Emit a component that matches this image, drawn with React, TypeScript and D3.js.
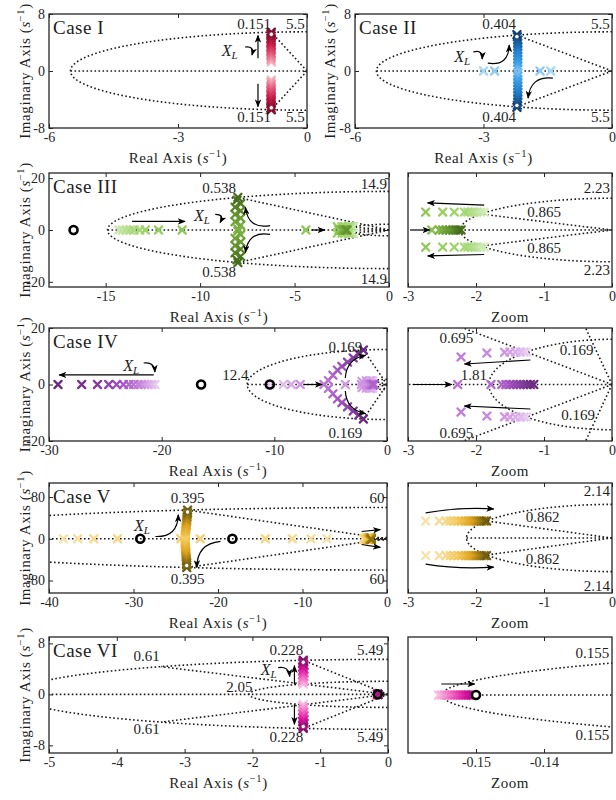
import React, { useEffect, useRef } from "react";
import * as d3 from "d3";

type Pt = [number, number];
type Label = [string, number, number, string];

// ---------------- Case I ----------------
const c1XTicks = [-6, -3, 0];
const c1YTicks = [-8, 0, 8];
const c1Wn = [5.5];
const c1Zeta: Pt[] = [[0.151, 5.5]];
const c1Upper: Pt[] = [[-0.83, 1.3], [-0.84, 1.6], [-0.83, 1.9], [-0.84, 2.2], [-0.83, 2.5], [-0.84, 2.8], [-0.83, 3.1], [-0.84, 3.4], [-0.83, 3.7], [-0.84, 4.0], [-0.83, 4.3], [-0.84, 4.6], [-0.83, 4.9], [-0.84, 5.2], [-0.83, 5.44]];
const c1Lower: Pt[] = [[-0.83, -1.3], [-0.84, -1.6], [-0.83, -1.9], [-0.84, -2.2], [-0.83, -2.5], [-0.84, -2.8], [-0.83, -3.1], [-0.84, -3.4], [-0.83, -3.7], [-0.84, -4.0], [-0.83, -4.3], [-0.84, -4.6], [-0.83, -4.9], [-0.84, -5.2], [-0.83, -5.44]];
const c1Arrows = [[-1.14, 1.8, -1.14, 5.0, 0], [-1.14, -1.8, -1.14, -5.0, 0], [-1.44, 3.37, -1.28, 2.25, 4]];
const c1Labels: Label[] = [["0.151", -0.84, 5.9, "end"], ["5.5", -0.05, 5.9, "end"], ["0.151", -0.84, -7.1, "end"], ["5.5", -0.05, -7.1, "end"]];
const c1XL: Pt = [-1.8, 2.8];

// ---------------- Case II ----------------
const c2Wn = [5.5];
const c2Zeta: Pt[] = [[0.404, 5.5]];
const c2Upper: Pt[] = [[-3.0, 0], [-2.74, 0], [-2.2, 0.3], [-2.2, 0.75], [-2.2, 1.2], [-2.2, 1.65], [-2.2, 2.1], [-2.2, 2.55], [-2.2, 3.0], [-2.2, 3.45], [-2.2, 3.9], [-2.2, 4.35], [-2.21, 4.8], [-2.22, 5.1]];
const c2Lower: Pt[] = [[-1.43, 0], [-1.68, 0], [-2.2, -0.3], [-2.2, -0.75], [-2.2, -1.2], [-2.2, -1.65], [-2.2, -2.1], [-2.2, -2.55], [-2.2, -3.0], [-2.2, -3.45], [-2.2, -3.9], [-2.2, -4.35], [-2.21, -4.8], [-2.22, -5.1]];
const c2Arrows = [[-2.9, 1.1, -2.4, 3.65, -8], [-1.38, -1.0, -1.96, -3.8, -8], [-3.24, 2.67, -3.03, 1.68, 4]];
const c2Labels: Label[] = [["0.404", -2.24, 5.9, "end"], ["5.5", -0.05, 5.9, "end"], ["0.404", -2.24, -7.1, "end"], ["5.5", -0.05, -7.1, "end"]];
const c2XL: Pt = [-3.5, 2.0];

// ---------------- Case III ----------------
const c3XTicks = [-15, -10, -5, 0];
const c3YTicks = [-20, 0, 20];
const c3Wn = [14.9, 2.23];
const c3Zeta: Pt[] = [[0.538, 14.9], [0.865, 2.23]];
const c3Zeros: Pt[] = [[-16.7, 0]];
const c3Left: Pt[] = [[-14.3, 0], [-14.1, 0], [-13.9, 0], [-13.7, 0], [-13.5, 0], [-13.2, 0], [-12.9, 0], [-12.2, 0], [-10.95, 0]];
const c3Up: Pt[] = [[-8.0, 0.4], [-7.85, 1.8], [-8.15, 3.2], [-7.85, 4.6], [-8.15, 6.0], [-7.85, 7.4], [-8.15, 8.8], [-7.85, 10.2], [-8.05, 11.5], [-8.0, 12.6]];
const c3Down: Pt[] = [[-8.0, -0.4], [-7.85, -1.8], [-8.15, -3.2], [-7.85, -4.6], [-8.15, -6.0], [-7.85, -7.4], [-8.15, -8.8], [-7.85, -10.2], [-8.05, -11.5], [-8.0, -12.6]];
const c3Arrows = [[-13.6, 3.3, -10.8, 3.3, 0], [-9.2, 6.0, -8.94, 2.9, 4], [-6.3, 1.7, -7.6, 8.7, 8], [-6.3, -1.7, -7.6, -8.7, -8], [-4.1, 0, -3.4, 0, 0]];
const c3Labels: Label[] = [["0.538", -8.1, 14.1, "end"], ["14.9", -0.1, 16, "end"], ["0.538", -8.1, -18, "end"], ["14.9", -0.1, -20.7, "end"]];
const c3XL: Pt = [-9.9, 5.2];
// zoomed view of the slow poles
const c3zUpper: Pt[] = [[-1.88, 1.26], [-1.93, 1.26], [-1.99, 1.26], [-2.03, 1.26], [-2.07, 1.26], [-2.12, 1.26], [-2.17, 1.26], [-2.32, 1.26], [-2.49, 1.26], [-2.74, 1.26]];
const c3zLower: Pt[] = [[-1.88, -1.2], [-1.93, -1.2], [-1.99, -1.2], [-2.03, -1.2], [-2.07, -1.2], [-2.12, -1.2], [-2.17, -1.2], [-2.32, -1.2], [-2.49, -1.2], [-2.74, -1.2]];
const c3zCenter: Pt[] = [[-4.4, 0], [-2.65, 0], [-2.54, 0], [-2.49, 0], [-2.44, 0], [-2.39, 0], [-2.34, 0], [-2.3, 0], [-2.26, 0], [-2.22, 0]];
const c3zWn = [2.23];
const c3zZeta: Pt[] = [[0.865, 2.23]];
const c3zArrows = [[-1.88, 1.75, -2.71, 1.9, 0], [-1.88, -1.72, -2.71, -1.82, 0], [-2.97, 0, -2.68, 0, 0]];
const c3zLabels: Label[] = [["2.23", -0.03, 2.6, "end"], ["0.865", -1.0, 0.91, "middle"], ["0.865", -1.0, -1.6, "middle"], ["2.23", -0.03, -3.15, "end"]];

// ---------------- Case IV ----------------
const c4XTicks = [-30, -20, -10, 0];
const c4YTicks = [-20, 0, 20];
const c4Wn = [12.4, 1.81];
const c4Zeta: Pt[] = [[0.169, 12.4], [0.695, 1.81]];
const c4Zeros: Pt[] = [[-16.5, 0], [-10.4, 0]];
const c4Left: Pt[] = [[-20.6, 0], [-20.9, 0], [-21.2, 0], [-21.5, 0], [-21.8, 0], [-22.1, 0], [-22.5, 0], [-22.9, 0], [-23.4, 0], [-24.0, 0], [-24.7, 0], [-25.7, 0], [-27.1, 0], [-29.2, 0]];
const c4Right: Pt[] = [[-10.4, 0], [-9.2, 0], [-8.5, 0], [-7.7, 0], [-5.6, 0]];
const c4Up: Pt[] = [[-5.2, 1.4], [-4.8, 3.3], [-4.4, 5.1], [-4.0, 6.4], [-3.5, 7.9], [-3.0, 9.4], [-2.5, 10.8], [-2.1, 12.2]];
const c4Down: Pt[] = [[-5.2, -1.4], [-4.8, -3.3], [-4.4, -5.1], [-4.0, -6.4], [-3.5, -7.9], [-3.0, -9.4], [-2.5, -10.8], [-2.1, -12.2]];
const c4Arrows = [[-20.7, 3.4, -29.1, 3.4, 0], [-21.6, 7.6, -20.6, 4.4, 4], [-7.4, 0, -5.75, 0, 0], [-3.7, 2.3, -1.9, 10.3, 6], [-3.7, -2.3, -1.9, -10.3, -6]];
const c4Labels: Label[] = [["12.4", -12.3, 1.6, "end"], ["0.169", -2.2, 11.6, "end"], ["0.169", -2.2, -18.9, "end"]];
const c4XL: Pt = [-22.7, 6.5];
const c4zUpper: Pt[] = [[-1.26, 1.3], [-1.3, 1.3], [-1.35, 1.3], [-1.42, 1.3], [-1.5, 1.3], [-1.58, 1.29], [-1.84, 1.26], [-2.22, 1.1]];
const c4zLower: Pt[] = [[-1.26, -1.3], [-1.3, -1.3], [-1.35, -1.3], [-1.42, -1.3], [-1.5, -1.3], [-1.58, -1.29], [-1.84, -1.26], [-2.22, -1.1]];
const c4zCenter: Pt[] = [[-3.7, 0], [-2.27, 0], [-1.78, 0], [-1.62, 0], [-1.56, 0], [-1.5, 0], [-1.45, 0], [-1.4, 0], [-1.35, 0], [-1.3, 0], [-1.25, 0], [-1.2, 0], [-1.15, 0]];
const c4zWn = [1.81];
const c4zZeta: Pt[] = [[0.695, 3.5], [0.169, 12.4]];
const c4zArrows = [[-1.2, 0.98, -2.17, 0.82, 0], [-1.2, -0.98, -2.17, -0.86, 0], [-2.93, 0, -2.36, 0, 0]];
const c4zLabels: Label[] = [["0.695", -2.29, 1.66, "middle"], ["0.169", -0.52, 1.18, "middle"], ["1.81", -2.03, 0.18, "middle"], ["0.169", -0.5, -1.42, "middle"], ["0.695", -2.29, -2.14, "middle"]];

// ---------------- Case V ----------------
const c5XTicks = [-40, -30, -20, -10, 0];
const c5YTicks = [-80, 0, 80];
const c5Wn = [60, 2.14];
const c5Zeta: Pt[] = [[0.395, 60.5], [0.862, 2.14]];
const c5Zeros: Pt[] = [[-29.2, 0], [-18.3, 0]];
const c5Upper: Pt[] = [[-38.3, 0], [-36.6, 0], [-34.7, 0], [-31.9, 0], [-24.4, 0], [-23.9, 2], [-23.9, 6], [-23.85, 10], [-23.85, 14], [-23.8, 18], [-23.8, 22], [-23.75, 26], [-23.75, 30], [-23.7, 34], [-23.7, 38], [-23.65, 42], [-23.65, 46], [-23.6, 50], [-23.6, 55.1]];
const c5Lower: Pt[] = [[-7.1, 0], [-9.0, 0], [-11.2, 0], [-14.4, 0], [-22.1, 0], [-23.9, -2], [-23.9, -6], [-23.9, -10], [-23.85, -14], [-23.85, -18], [-23.85, -22], [-23.8, -26], [-23.8, -30], [-23.8, -34], [-23.75, -38], [-23.75, -42], [-23.7, -46], [-23.7, -50], [-23.7, -55.1]];
const c5Arrows = [[-27.4, 4.4, -24.7, 46, -8], [-19.7, -5, -22.5, -55, -8], [-3.0, 14, -0.8, 17.7, 0], [-3.0, -11, -0.8, -16.6, 0]];
const c5Labels: Label[] = [["0.395", -23.6, 69, "middle"], ["60", -0.3, 69, "end"], ["0.395", -23.6, -87, "middle"], ["60", -0.3, -87, "end"]];
const c5XL: Pt = [-29.0, 25];
const c5zUpper: Pt[] = [[-2.74, 1.08], [-2.54, 1.08], [-2.44, 1.08], [-2.38, 1.08], [-2.32, 1.08], [-2.26, 1.08], [-2.21, 1.08], [-2.16, 1.08], [-2.12, 1.08], [-2.08, 1.08], [-2.04, 1.08], [-2.0, 1.08], [-1.96, 1.08], [-1.92, 1.08], [-1.88, 1.08], [-1.845, 1.08]];
const c5zLower: Pt[] = [[-2.74, -1.12], [-2.54, -1.12], [-2.44, -1.12], [-2.38, -1.12], [-2.32, -1.12], [-2.26, -1.12], [-2.21, -1.12], [-2.16, -1.12], [-2.12, -1.12], [-2.08, -1.12], [-2.04, -1.12], [-2.0, -1.12], [-1.96, -1.12], [-1.92, -1.12], [-1.88, -1.12], [-1.845, -1.12]];
const c5zWn = [2.14];
const c5zZeta: Pt[] = [[0.862, 2.14]];
const c5zArrows = [[-2.74, 1.6, -1.74, 1.85, 2], [-2.74, -1.66, -1.74, -1.85, -2]];
const c5zLabels: Label[] = [["2.14", -0.03, 2.67, "end"], ["0.862", -1.02, 1.02, "middle"], ["0.862", -1.02, -1.66, "middle"], ["2.14", -0.03, -3.38, "end"]];

// ---------------- Case VI ----------------
const c6XTicks = [-5, -4, -3, -2, -1, 0];
const c6YTicks = [-8, 0, 8];
const c6Wn = [5.49, 2.05];
const c6Zeta: Pt[] = [[0.228, 5.49], [0.61, 5.49]];
const c6Zeros: Pt[] = [[-0.15, 0]];
const c6Upper: Pt[] = [[-1.25, 1.6], [-1.26, 1.9], [-1.24, 2.2], [-1.26, 2.5], [-1.24, 2.8], [-1.26, 3.1], [-1.24, 3.4], [-1.26, 3.7], [-1.24, 4.0], [-1.26, 4.3], [-1.24, 4.6], [-1.26, 4.9], [-1.25, 5.15], [-1.25, 5.35]];
const c6Lower: Pt[] = [[-1.25, -1.6], [-1.26, -1.9], [-1.24, -2.2], [-1.26, -2.5], [-1.24, -2.8], [-1.26, -3.1], [-1.24, -3.4], [-1.26, -3.7], [-1.24, -4.0], [-1.26, -4.3], [-1.24, -4.6], [-1.26, -4.9], [-1.25, -5.15], [-1.25, -5.35]];
const c6Arrows = [[-1.38, 1.56, -1.38, 4.5, 0], [-1.38, -1.56, -1.38, -4.7, 0], [-1.62, 4.2, -1.45, 2.8, 4]];
const c6Labels: Label[] = [["0.61", -3.56, 5.2, "middle"], ["0.228", -1.25, 6.25, "end"], ["5.49", -0.07, 6.25, "end"], ["2.05", -2.0, 0.3, "end"], ["0.61", -3.56, -6.25, "middle"], ["0.228", -1.25, -7.5, "end"], ["5.49", -0.07, -7.5, "end"]];
const c6XL: Pt = [-1.76, 3.75];
const c6zXTicks = [-0.15, -0.14];
const c6zPole: Pt[] = [[-0.1555, 0], [-0.1551, 0], [-0.1547, 0], [-0.1543, 0], [-0.1539, 0], [-0.1535, 0], [-0.1531, 0], [-0.1527, 0], [-0.1523, 0], [-0.1519, 0], [-0.1515, 0], [-0.1511, 0], [-0.1507, 0], [-0.1504, 0]];
const c6zWn = [0.155];
const c6zArrows = [[-0.1551, 0.029, -0.1502, 0.029, 0]];
const c6zLabels: Label[] = [["0.155", -0.1304, 0.097, "end"], ["0.155", -0.1304, -0.118, "end"]];

const zoomXTicks = [-3, -2, -1, 0];

// colour ramps (light -> dark) per case
const redRamp = ["#f6b3c2", "#e4587a", "#c41a46", "#7d0f2e"];
const blueRamp = ["#a6d8fa", "#3d9fea", "#1f78c8", "#123f6e"];
const greenRamp = ["#d2ecbc", "#9ad262", "#6ea236", "#456c1c"];
const purpleRamp = ["#ecd4f4", "#cf94e2", "#a455c4", "#6a2a80"];
const goldRamp = ["#f9e2a8", "#f3c95a", "#dca21c", "#6e5c10"];
const pinkRamp = ["#f9c0e4", "#f26cc4", "#dc14a0", "#86106c"];

const FONT = "'Liberation Serif', 'Times New Roman', serif";
const INK = "#262626";
const TXT = "#1e1e1e";
const XMARK = "M-3.6,-3.6L3.6,3.6M-3.6,3.6L3.6,-3.6";

interface Branch { pts: Pt[]; t: [number, number]; end?: boolean }
interface Panel {
  id: string;
  box: [number, number, number, number];
  xDom: [number, number];
  yDom: [number, number];
  xTicks: number[];
  yTicks: number[];
  zoom?: boolean;
  yTitleX?: number;
  title?: string;
  wn: number[];
  zeta: Pt[];
  realFrom: number;
  ramp: string[];
  branches: Branch[];
  zeros: Pt[];
  zeroFill?: string;
  arrows: number[][];
  labels: Label[];
  xl?: Pt;
}

const MAIN_L = 49, MAIN_R = 388, ZL = 408, ZR = 612;
const rows: [number, number][] = [[14, 128], [173, 287], [328, 441], [483, 593], [637, 753]];

const panels: Panel[] = [
  {
    id: "c1", box: [49, rows[0][0], 307, rows[0][1]], xDom: [-6, 0], yDom: [-8, 8],
    xTicks: c1XTicks, yTicks: c1YTicks, yTitleX: 30, title: "Case I",
    wn: c1Wn, zeta: c1Zeta, realFrom: -5.5, ramp: redRamp,
    branches: [{ pts: c1Upper, t: [0, 1], end: true }, { pts: c1Lower, t: [0, 1], end: true }],
    zeros: [], arrows: c1Arrows, labels: c1Labels, xl: c1XL,
  },
  {
    id: "c2", box: [355, rows[0][0], 612, rows[0][1]], xDom: [-6, 0], yDom: [-8, 8],
    xTicks: c1XTicks, yTicks: c1YTicks, yTitleX: 335, title: "Case II",
    wn: c2Wn, zeta: c2Zeta, realFrom: -5.5, ramp: blueRamp,
    branches: [{ pts: c2Upper, t: [0, 1], end: true }, { pts: c2Lower, t: [0, 1], end: true }],
    zeros: [], arrows: c2Arrows, labels: c2Labels, xl: c2XL,
  },
  {
    id: "c3", box: [MAIN_L, rows[1][0], 389, rows[1][1]], xDom: [-18, 0], yDom: [-22, 22],
    xTicks: c3XTicks, yTicks: c3YTicks, yTitleX: 30, title: "Case III",
    wn: c3Wn, zeta: c3Zeta, realFrom: -14.9, ramp: greenRamp,
    branches: [
      { pts: c3Left, t: [0.05, 0.4] }, { pts: c3Up, t: [0.55, 1] }, { pts: c3Down, t: [0.55, 1] },
      { pts: c3zUpper, t: [0, 0.35] }, { pts: c3zLower, t: [0, 0.35] }, { pts: c3zCenter, t: [0.4, 0.75] },
    ],
    zeros: c3Zeros, arrows: c3Arrows, labels: c3Labels, xl: c3XL,
  },
  {
    id: "c3z", box: [ZL, rows[1][0], ZR, rows[1][1]], xDom: [-3, 0], yDom: [-4, 4],
    xTicks: zoomXTicks, yTicks: [], zoom: true,
    wn: c3zWn, zeta: c3zZeta, realFrom: -2.23, ramp: greenRamp,
    branches: [{ pts: c3zUpper, t: [0, 0.4] }, { pts: c3zLower, t: [0, 0.4] }, { pts: c3zCenter, t: [0.4, 1] }],
    zeros: [], arrows: c3zArrows, labels: c3zLabels,
  },
  {
    id: "c4", box: [MAIN_L, rows[2][0], 387, rows[2][1]], xDom: [-30, 0], yDom: [-20, 20],
    xTicks: c4XTicks, yTicks: c4YTicks, yTitleX: 30, title: "Case IV",
    wn: c4Wn, zeta: c4Zeta, realFrom: -12.4, ramp: purpleRamp,
    branches: [
      { pts: c4Left, t: [0.05, 1] }, { pts: c4Right, t: [0, 0.45] }, { pts: c4Up, t: [0.5, 1] }, { pts: c4Down, t: [0.5, 1] },
      { pts: c4zUpper, t: [0, 0.3] }, { pts: c4zLower, t: [0, 0.3] }, { pts: c4zCenter, t: [0.3, 0.6] },
    ],
    zeros: c4Zeros, arrows: c4Arrows, labels: c4Labels, xl: c4XL,
  },
  {
    id: "c4z", box: [ZL, rows[2][0], ZR, rows[2][1]], xDom: [-3, 0], yDom: [-2.26, 2.26],
    xTicks: zoomXTicks, yTicks: [], zoom: true,
    wn: c4zWn, zeta: c4zZeta, realFrom: -12.4, ramp: purpleRamp,
    branches: [{ pts: c4zUpper, t: [0, 0.45] }, { pts: c4zLower, t: [0, 0.45] }, { pts: c4zCenter, t: [0.45, 1] }],
    zeros: [], arrows: c4zArrows, labels: c4zLabels,
  },
  {
    id: "c5", box: [MAIN_L, rows[3][0], 387, rows[3][1]], xDom: [-40, 0], yDom: [-104, 107],
    xTicks: c5XTicks, yTicks: c5YTicks, yTitleX: 30, title: "Case V",
    wn: c5Wn, zeta: c5Zeta, realFrom: -60, ramp: goldRamp,
    branches: [
      { pts: c5Upper, t: [0, 1], end: true }, { pts: c5Lower, t: [0, 1], end: true },
      { pts: c5zUpper, t: [0.1, 0.9] }, { pts: c5zLower, t: [0.1, 0.9] },
    ],
    zeros: c5Zeros, arrows: c5Arrows, labels: c5Labels, xl: c5XL,
  },
  {
    id: "c5z", box: [ZL, rows[3][0], ZR, rows[3][1]], xDom: [-3, 0], yDom: [-3.5, 3.5],
    xTicks: zoomXTicks, yTicks: [], zoom: true,
    wn: c5zWn, zeta: c5zZeta, realFrom: -2.14, ramp: goldRamp,
    branches: [{ pts: c5zUpper, t: [0, 1] }, { pts: c5zLower, t: [0, 1] }],
    zeros: [], arrows: c5zArrows, labels: c5zLabels,
  },
  {
    id: "c6", box: [MAIN_L, rows[4][0], MAIN_R, rows[4][1]], xDom: [-5, 0], yDom: [-9.2, 9.0],
    xTicks: c6XTicks, yTicks: c6YTicks, yTitleX: 30, title: "Case VI",
    wn: c6Wn, zeta: c6Zeta, realFrom: -5.49, ramp: pinkRamp,
    branches: [{ pts: c6Upper, t: [0, 1], end: true }, { pts: c6Lower, t: [0, 1], end: true }, { pts: c6zPole, t: [0.2, 0.8] }],
    zeros: c6Zeros, arrows: c6Arrows, labels: c6Labels, xl: c6XL,
  },
  {
    id: "c6z", box: [ZL, rows[4][0], ZR, rows[4][1]], xDom: [-0.16, -0.13], yDom: [-0.153, 0.153],
    xTicks: c6zXTicks, yTicks: [], zoom: true,
    wn: c6zWn, zeta: [], realFrom: -0.155, ramp: pinkRamp,
    branches: [{ pts: c6zPole, t: [0, 0.85] }],
    zeros: c6Zeros, zeroFill: "#fff", arrows: c6zArrows, labels: c6zLabels,
  },
];

function unitTitle(t: any, prefix: string) {
  t.append("tspan").text(prefix + " (");
  t.append("tspan").attr("font-style", "italic").text("s");
  t.append("tspan").attr("dy", -6).attr("font-size", 10.5).text("\u22121");
  t.append("tspan").attr("dy", 6).text(")");
}

function drawPanel(svg: any, defs: any, p: Panel) {
  const [L, T, R, B] = p.box;
  const x = d3.scaleLinear().domain(p.xDom).range([L, R]);
  const y = d3.scaleLinear().domain(p.yDom).range([B, T]);
  const stops = p.ramp.map((_, i) => i / (p.ramp.length - 1));
  const color = d3.scaleLinear<string>().domain(stops).range(p.ramp).interpolate(d3.interpolateRgb);

  defs.append("clipPath").attr("id", `clip-${p.id}`)
    .append("rect").attr("x", L).attr("y", T).attr("width", R - L).attr("height", B - T);

  const g = svg.append("g");
  const plot = g.append("g").attr("clip-path", `url(#clip-${p.id})`);
  const line = d3.line<Pt>().x((d) => x(d[0])).y((d) => y(d[1]));

  // grid: real axis, constant-wn circles, constant-zeta rays
  const grid = plot.append("g")
    .attr("fill", "none").attr("stroke", "#1c1c1c")
    .attr("stroke-width", 1.6).attr("stroke-dasharray", "1.6 2.4");
  grid.append("path").attr("d", line([[p.realFrom, 0], [0, 0]]));
  p.wn.forEach((w) => {
    const arc: Pt[] = d3.range(90, 270.5, 1).map((a) => [w * Math.cos((a * Math.PI) / 180), w * Math.sin((a * Math.PI) / 180)] as Pt);
    grid.append("path").attr("d", line(arc));
  });
  p.zeta.forEach(([z, r]) => {
    const ex = -z * r;
    const ey = Math.sqrt(1 - z * z) * r;
    grid.append("path").attr("d", line([[0, 0], [ex, ey]]));
    grid.append("path").attr("d", line([[0, 0], [ex, -ey]]));
  });

  // pole trajectories
  const mk = plot.append("g").attr("fill", "none").attr("stroke-width", 2.3).attr("stroke-linecap", "round");
  p.branches.forEach((b) => {
    const n = b.pts.length;
    b.pts.forEach((pt, i) => {
      const t = n > 1 ? b.t[0] + ((b.t[1] - b.t[0]) * i) / (n - 1) : b.t[0];
      mk.append("path").attr("d", XMARK)
        .attr("transform", `translate(${x(pt[0])},${y(pt[1])})`)
        .attr("stroke", color(t));
    });
  });
  p.branches.filter((b) => b.end).forEach((b) => {
    const pt = b.pts[b.pts.length - 1];
    plot.append("circle").attr("cx", x(pt[0])).attr("cy", y(pt[1]) + (pt[1] > 0 ? 2 : -2)).attr("r", 2.2)
      .attr("fill", "#fff").attr("stroke", color(b.t[1])).attr("stroke-width", 0.8);
  });

  // zeros
  p.zeros.forEach((z) => {
    plot.append("circle").attr("cx", x(z[0])).attr("cy", y(z[1])).attr("r", 4)
      .attr("fill", p.zeroFill ?? "none").attr("stroke", "#000").attr("stroke-width", 2.6);
  });

  // arrows
  p.arrows.forEach(([x1, y1, x2, y2, bend]) => {
    const X1 = x(x1), Y1 = y(y1), X2 = x(x2), Y2 = y(y2);
    const dx = X2 - X1, dy = Y2 - Y1;
    const len = Math.hypot(dx, dy) || 1;
    const cx = (X1 + X2) / 2 + (dy / len) * bend * 2;
    const cy = (Y1 + Y2) / 2 - (dx / len) * bend * 2;
    const path = d3.path();
    path.moveTo(X1, Y1);
    path.quadraticCurveTo(cx, cy, X2, Y2);
    g.append("path").attr("d", path.toString()).attr("fill", "none")
      .attr("stroke", "#000").attr("stroke-width", 1.2).attr("marker-end", "url(#arrowhead)");
  });

  // grid value labels
  p.labels.forEach(([txt, lx, ly, anchor]) => {
    g.append("text").attr("x", x(lx)).attr("y", y(ly)).attr("text-anchor", anchor)
      .attr("font-family", FONT).attr("font-size", 15).attr("fill", TXT).text(txt);
  });

  if (p.xl) {
    const t = g.append("text").attr("x", x(p.xl[0])).attr("y", y(p.xl[1])).attr("dy", "0.3em")
      .attr("text-anchor", "middle").attr("font-family", FONT).attr("font-size", 16)
      .attr("font-style", "italic").attr("fill", TXT);
    t.append("tspan").text("X");
    t.append("tspan").attr("font-size", 11).attr("dy", 3).text("L");
  }

  // axes (ticks inside, box on)
  const fmt = (d: any) => String(d);
  const styleAxis = (s: any) => {
    s.select(".domain").remove();
    s.attr("font-family", FONT).attr("font-size", 14).style("color", INK);
  };
  g.append("g").attr("transform", `translate(0,${B})`)
    .call(d3.axisBottom(x).tickValues(p.xTicks).tickSize(-4).tickPadding(4).tickFormat(fmt)).call(styleAxis);
  g.append("g").attr("transform", `translate(0,${T})`)
    .call(d3.axisTop(x).tickValues(p.xTicks).tickSize(-4).tickFormat(() => "")).call(styleAxis);
  if (p.yTicks.length) {
    g.append("g").attr("transform", `translate(${L},0)`)
      .call(d3.axisLeft(y).tickValues(p.yTicks).tickSize(-4).tickPadding(4).tickFormat(fmt)).call(styleAxis);
    g.append("g").attr("transform", `translate(${R},0)`)
      .call(d3.axisRight(y).tickValues(p.yTicks).tickSize(-4).tickFormat(() => "")).call(styleAxis);
  }

  g.append("rect").attr("x", L).attr("y", T).attr("width", R - L).attr("height", B - T)
    .attr("fill", "none").attr("stroke", INK).attr("stroke-width", 1.3);

  if (p.title) {
    g.append("text").attr("x", L + 4).attr("y", T + 20).attr("font-family", FONT)
      .attr("font-size", 19).attr("letter-spacing", 0.5).attr("fill", TXT).text(p.title);
  }

  const xt = g.append("text").attr("x", (L + R) / 2).attr("y", B + 35).attr("text-anchor", "middle")
    .attr("font-family", FONT).attr("font-size", 15).attr("letter-spacing", 0.6).attr("fill", TXT);
  if (p.zoom) xt.text("Zoom");
  else unitTitle(xt, "Real Axis");

  if (p.yTitleX !== undefined) {
    const yt = g.append("text")
      .attr("transform", `translate(${p.yTitleX},${(T + B) / 2}) rotate(-90)`)
      .attr("text-anchor", "middle").attr("font-family", FONT).attr("font-size", 15)
      .attr("letter-spacing", 0.6).attr("fill", TXT);
    unitTitle(yt, "Imaginary Axis");
  }
}

export default function App() {
  const svgRef = useRef<SVGSVGElement>(null);

  useEffect(() => {
    const svg = d3.select(svgRef.current);
    svg.selectAll("*").remove();
    const defs = svg.append("defs");
    defs.append("marker").attr("id", "arrowhead").attr("markerUnits", "userSpaceOnUse")
      .attr("viewBox", "0 0 10 8").attr("refX", 9).attr("refY", 4)
      .attr("markerWidth", 8).attr("markerHeight", 6.4).attr("orient", "auto")
      .append("path").attr("d", "M0,0L10,4L0,8L2.5,4Z").attr("fill", "#000");
    panels.forEach((p) => drawPanel(svg, defs, p));
  }, []);

  return (
    <div style={{ position: "absolute", left: 0, top: 0, width: 616, height: 800, background: "#fff" }}>
      <svg ref={svgRef} width={616} height={800} style={{ display: "block" }} />
    </div>
  );
}
